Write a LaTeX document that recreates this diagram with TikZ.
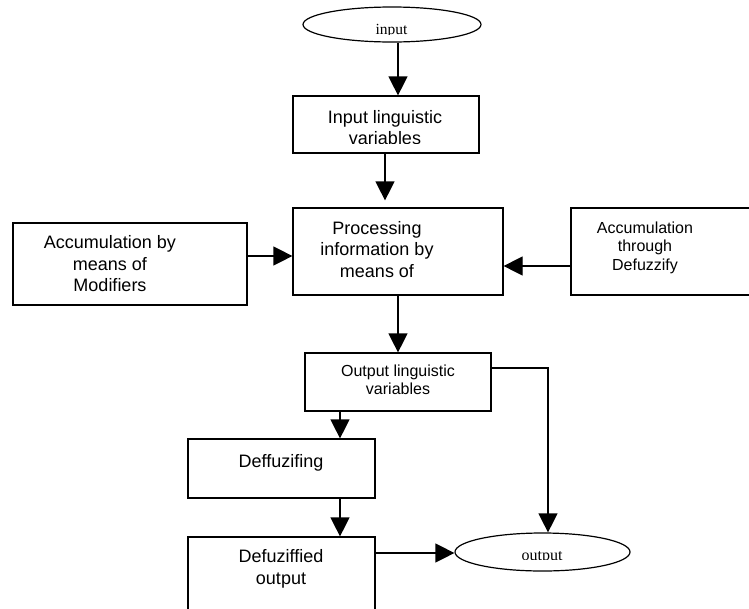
\documentclass[tikz,border=0pt]{standalone}
\usepackage{fontspec}
\setmainfont{Liberation Sans}
\newfontfamily\labelserif{Liberation Serif}
\usetikzlibrary{arrows.meta,shapes.geometric}
\begin{document}
\begin{tikzpicture}[x=1pt,y=-1pt,
  box/.style={draw, line width=1.2pt, rectangle, inner sep=0pt},
  oval/.style={draw, line width=1.2pt, ellipse, inner sep=0pt},
  big/.style={align=center, inner sep=0pt, font=\fontsize{18}{21.5}\selectfont},
  small/.style={align=center, inner sep=0pt, font=\fontsize{16}{18.5}\selectfont},
  term/.style={inner sep=0pt, font=\labelserif\fontsize{15.5}{18}\selectfont},
  link/.style={line width=1.2pt, -{Triangle[length=19pt,width=19pt]}},
  wire/.style={line width=1.2pt}]
\useasboundingbox (0,0) rectangle (749,608);

% shapes
\node[oval, minimum width=178pt, minimum height=35pt] (inp) at (392,24.5) {};
\node[box, minimum width=186pt, minimum height=57pt] (ilv) at (386,124.5) {};
\node[box, minimum width=210pt, minimum height=87pt] (proc) at (398,251.5) {};
\node[box, minimum width=234pt, minimum height=82pt] (mods) at (130,264) {};
\node[box, minimum width=189pt, minimum height=87pt] (accd) at (665.5,251.5) {};
\node[box, minimum width=186pt, minimum height=58pt] (olv) at (398,382) {};
\node[box, minimum width=187pt, minimum height=59pt] (dfz) at (281.5,468.5) {};
\node[box, minimum width=187pt, minimum height=88pt] (dout) at (281.5,581) {};
\node[oval, minimum width=175pt, minimum height=38pt] (outp) at (542.5,552) {};

% texts
\begin{scope}
  \clip (300,0) rectangle (480,34);
  \node[term, anchor=base] (inptxt) at (391.5,34.8) {input};
\end{scope}
\begin{scope}
  \clip (290,96) rectangle (480,143.5);
  \node[big] (ilvtxt) at (385,127.5) {Input linguistic\\variables};
\end{scope}
\node[big] (proctxt) at (377,249.5) {Processing\\information by\\means of};
\node[big] (modstxt) at (110,263.7) {Accumulation by\\means of\\Modifiers};
\node[small] (accdtxt) at (645,247.5) {Accumulation\\through\\Defuzzify};
\node[small] (olvtxt) at (398,380) {Output linguistic\\variables};
\node[big] (dfztxt) at (281,463) {Deffuzifing};
\node[big] (douttxt) at (281,569) {Defuziffied\\output};
\begin{scope}
  \clip (450,530) rectangle (640,559.3);
  \node[term, anchor=base, font=\labelserif\fontsize{16}{18}\selectfont] (outtxt) at (542,560.5) {output};
\end{scope}

% connectors
\draw[link] ([xshift=6pt]inp.south) -- ([xshift=12pt]ilv.north);
\draw[link, shorten >=7pt] ([xshift=-1pt]ilv.south) -- ([xshift=-13pt]proc.north);
\draw[link] ([yshift=8pt]mods.east) -- ([yshift=-4.5pt]proc.west);
\draw[link] ([yshift=-14.5pt]accd.west) -- ([yshift=-14.5pt]proc.east);
\draw[link] (proc.south) -- (olv.north);
\draw[link] ([yshift=14pt]olv.east) -| ([xshift=5.5pt]outp.north);
\draw[link] ([xshift=-58pt]olv.south) -- ([xshift=58.5pt]dfz.north);
\draw[link] ([xshift=58.5pt]dfz.south) -- ([xshift=58.5pt]dout.north);
\draw[link] ([yshift=28pt]dout.east) -- ([yshift=-1pt]outp.west);
\end{tikzpicture}
\end{document}
